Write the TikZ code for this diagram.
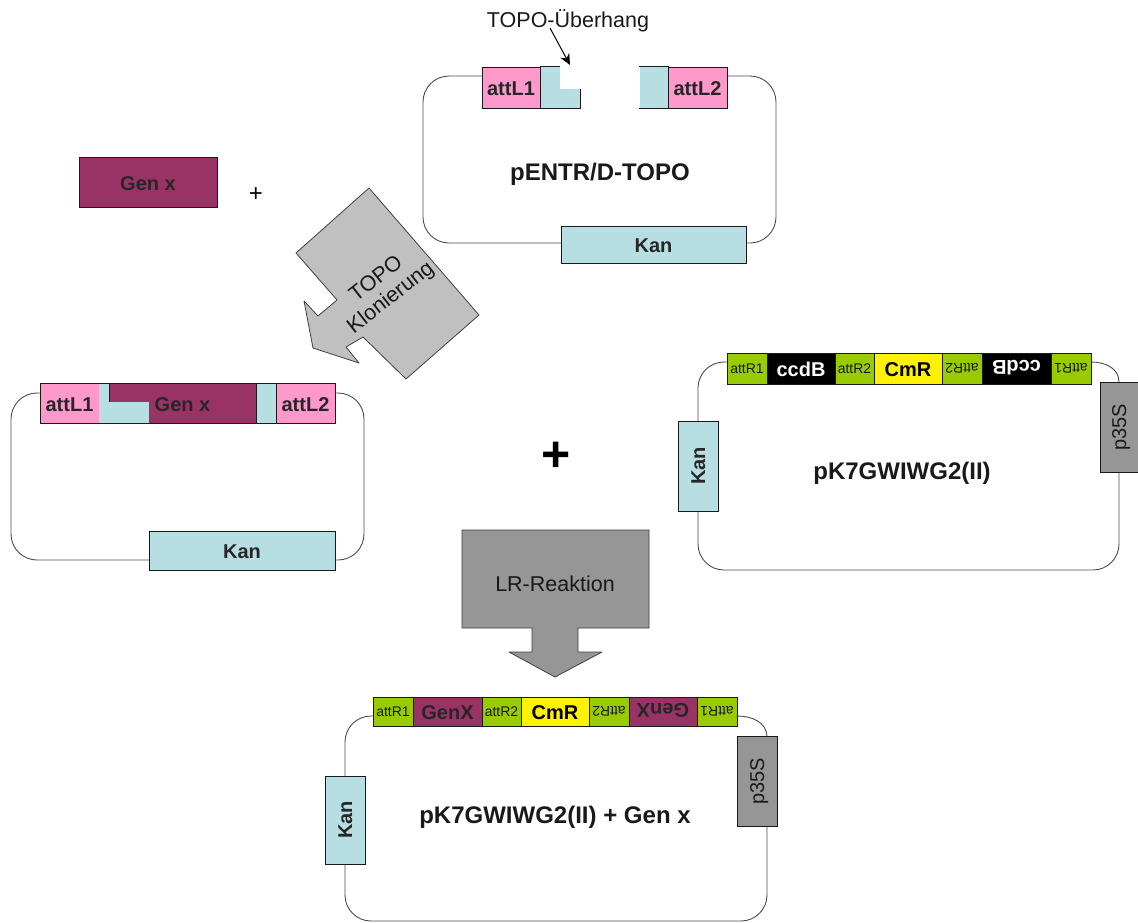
\documentclass[tikz,border=0pt]{standalone}
\usepackage{fontspec}
\usetikzlibrary{arrows.meta}
\setmainfont{Liberation Sans}
\definecolor{teal}{HTML}{B7DFE3}
\definecolor{pinkb}{HTML}{FF99CC}
\definecolor{gene}{HTML}{993366}
\definecolor{lime}{HTML}{99CC00}
\definecolor{gbig}{HTML}{C0C0C0}
\definecolor{gdark}{HTML}{969696}
\definecolor{ink}{HTML}{1A1A1A}
\tikzset{
  seg/.style={draw=ink,line width=0.8pt,inner sep=0pt,outer sep=0pt,anchor=north west,align=center},
  backbone/.style={draw=black!70,line width=0.9pt,rounded corners=26pt},
  lab/.style={font=\fontsize{20}{22}\selectfont\bfseries,text=black!85,text height=16.5pt,text depth=0pt},
  side/.style={lab,text height=14.4pt,rotate=90},
  barlab/.style={lab,text height=15.5pt},
  labr/.style={font=\fontsize{20}{22}\selectfont,text=black!90,text height=14.3pt,text depth=0pt,rotate=90},
  small/.style={font=\fontsize{14}{16}\selectfont,text=black!90},
  title/.style={font=\fontsize{24}{28}\selectfont\bfseries,text=black!90},
  flowtext/.style={font=\fontsize{21.5}{23.5}\selectfont,text=black!90},
  flow/.style={draw=black!75,line width=0.8pt},
}
\begin{document}
\begin{tikzpicture}[x=1pt,y=-1pt]
\useasboundingbox (0,0) rectangle (1138,922);
% ---- pENTR/D-TOPO
\coordinate (e1) at (482,76);
\coordinate (e2) at (727,76);
\coordinate (e3) at (561,243);
\coordinate (e4) at (746,243);
\draw[backbone] (e1) -- (423,76) -- (423,243) -- (e3);
\draw[backbone] (e2) -- (776,76) -- (776,243) -- (e4);
\node[seg,fill=pinkb,minimum width=58pt,minimum height=41pt,lab] (attLa) at (482,67) {attL1};
\node[seg,fill=pinkb,minimum width=59pt,minimum height=41pt,lab] (attLb) at (668,67) {attL2};
\path[fill=teal] (540,67) -- (560,67) -- (560,89) -- (580,89) -- (580,108) -- (540,108) -- cycle;
\draw[line width=0.8pt,draw=ink] (560,66) -- (540,66) -- (540,108) -- (580,108) -- (580,89);
\path[fill=teal] (640,67) rectangle (668,108);
\draw[line width=0.8pt,draw=ink] (639,66) -- (668,66) -- (668,108) -- (639,108);
\node[seg,fill=teal,minimum width=185pt,minimum height=37pt,lab] (kanA) at (561,226) {Kan};
\node[title] (pentr) at (600,174) {pENTR/D-TOPO};
\node[flowtext,inner sep=1pt] (ueber) at (568,21) {TOPO-Überhang};
\coordinate (ueberEnd) at (570,65);
\draw[black,line width=1pt,-{Stealth[length=11pt,width=10pt]}] (550,28) -- (ueberEnd);
% ---- Gen x
\node[seg,fill=gene,minimum width=138pt,minimum height=50pt,lab] (genx) at (79,157) {Gen x};
\node[font=\fontsize{24}{26}\selectfont] (plusA) at (256,195) {+};
% ---- TOPO arrow
\draw[flow,fill=gbig,line join=round] (369,188) -- (479,315) -- (406,379) -- (363,337) -- (346,347) -- (359,363) -- (313,348) -- (304,301) -- (318,316) -- (337,300) -- (296,253) -- cycle;
\node[flowtext,rotate=38,align=center] (topok) at (384,289) {TOPO\\Klonierung};
% ---- entry clone
\coordinate (c1) at (40,393);
\coordinate (c2) at (335,393);
\coordinate (c3) at (149,560);
\coordinate (c4) at (335,560);
\draw[backbone] (c1) -- (11,393) -- (11,560) -- (c3);
\draw[backbone] (c2) -- (364,393) -- (364,560) -- (c4);
\node[seg,fill=pinkb,minimum width=59pt,minimum height=40pt,lab] (attLc) at (40,383) {attL1};
\node[seg,fill=teal,minimum width=10pt,minimum height=40pt] (tealc) at (99,383) {};
\node[seg,fill=gene,minimum width=147pt,minimum height=40pt,lab] (genc) at (109,383) {Gen x};
\node[seg,fill=teal,minimum width=20pt,minimum height=40pt] (teald) at (256,383) {};
\node[seg,fill=pinkb,minimum width=59pt,minimum height=40pt,lab] (attLd) at (276,383) {attL2};
\path[fill=teal] (99,402) rectangle (149,422.5);
\path[fill=teal] (99,383.5) rectangle (108.5,423);
\node[seg,fill=teal,minimum width=186pt,minimum height=39pt,lab] (kanC) at (149,531) {Kan};
% ---- plus
\node[font=\fontsize{50}{52}\selectfont\bfseries] (plusB) at (556,457) {+};
% ---- pK7GWIWG2(II)
\coordinate (d1) at (727,362);
\coordinate (d2) at (1091,362);
\coordinate (d3) at (1119,382);
\coordinate (d4) at (1119,472);
\coordinate (d5) at (698,421);
\coordinate (d6) at (698,511);
\draw[backbone] (d1) -- (698,362) -- (d5);
\draw[backbone] (d6) -- (698,570) -- (1119,570) -- (d4);
\draw[black!70,line width=0.9pt] (d2) .. controls (1105,362) and (1119,368) .. (d3);
\node[seg,fill=lime,minimum width=40pt,minimum height=31pt,small] (r1) at (727,353) {attR1};
\node[seg,fill=black,minimum width=68pt,minimum height=31pt,lab,text=white] (r2) at (767,353) {ccdB};
\node[seg,fill=lime,minimum width=39pt,minimum height=31pt,small] (r3) at (835,353) {attR2};
\node[seg,fill=yellow,minimum width=68pt,minimum height=31pt,lab,text=black] (r4) at (874,353) {CmR};
\node[seg,fill=lime,minimum width=40pt,minimum height=31pt] (r5) at (942,353) {};
\node[small,rotate=180] (r5t) at (r5.center) {attR2};
\node[seg,fill=black,minimum width=69pt,minimum height=31pt] (r6) at (982,353) {};
\node[lab,text=white,rotate=180] (r6t) at (r6.center) {ccdB};
\node[seg,fill=lime,minimum width=40pt,minimum height=31pt] (r7) at (1051,353) {};
\node[small,rotate=180] (r7t) at (r7.center) {attR1};
\node[seg,fill=teal,minimum width=40pt,minimum height=90pt] (kanD) at (678,421) {};
\node[side] (kanDt) at (kanD.center) {Kan};
\node[seg,fill=gdark,minimum width=38pt,minimum height=90pt] (pD) at (1100,382) {};
\node[labr] (pDt) at (pD.center) {p35S};
\node[title] (pk) at (902,473) {pK7GWIWG2(II)};
% ---- LR arrow
\draw[flow,fill=gdark,line join=round] (462,530) -- (649,530) -- (649,628) -- (578,628) -- (578,652) -- (602,652) -- (555,677) -- (509,652) -- (532,652) -- (532,628) -- (462,628) -- cycle;
\node[flowtext] (lr) at (555,584) {LR-Reaktion};
% ---- pK7GWIWG2(II) + Gen x
\coordinate (f1) at (373,716);
\coordinate (f2) at (737,716);
\coordinate (f3) at (767,736);
\coordinate (f4) at (767,826);
\coordinate (f5) at (345,776);
\coordinate (f6) at (345,864);
\draw[backbone] (f1) -- (345,716) -- (f5);
\draw[backbone] (f6) -- (345,921) -- (767,921) -- (f4);
\draw[black!70,line width=0.9pt] (f2) .. controls (752,716) and (766,722) .. (f3);
\node[seg,fill=lime,minimum width=40pt,minimum height=29pt,small] (g1) at (373,697) {attR1};
\node[seg,fill=gene,minimum width=69pt,minimum height=29pt,barlab] (g2) at (413,697) {GenX};
\node[seg,fill=lime,minimum width=39pt,minimum height=29pt,small] (g3) at (482,697) {attR2};
\node[seg,fill=yellow,minimum width=68pt,minimum height=29pt,barlab,text=black] (g4) at (521,697) {CmR};
\node[seg,fill=lime,minimum width=40pt,minimum height=29pt] (g5) at (589,697) {};
\node[small,rotate=180] (g5t) at (g5.center) {attR2};
\node[seg,fill=gene,minimum width=68pt,minimum height=29pt] (g6) at (629,697) {};
\node[barlab,rotate=180] (g6t) at (g6.center) {GenX};
\node[seg,fill=lime,minimum width=40pt,minimum height=29pt] (g7) at (697,697) {};
\node[small,rotate=180] (g7t) at (g7.center) {attR1};
\node[seg,fill=teal,minimum width=40pt,minimum height=88pt] (kanF) at (325,776) {};
\node[side] (kanFt) at (kanF.center) {Kan};
\node[seg,fill=gdark,minimum width=40pt,minimum height=90pt] (pF) at (737,736) {};
\node[labr] (pFt) at (pF.center) {p35S};
\node[title] (pkg) at (555,817) {pK7GWIWG2(II) + Gen x};
\end{tikzpicture}
\end{document}
